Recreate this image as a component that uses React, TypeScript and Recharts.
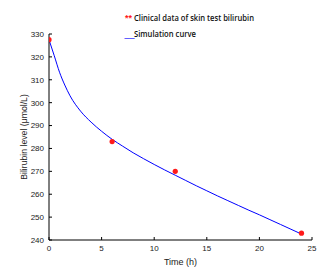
import React from 'react';
import { ComposedChart, Line, Scatter, XAxis, YAxis } from 'recharts';

const clinicalTime = [0, 6, 12, 24];
const clinicalValue = [327.5, 283, 270, 243];

const curveTime = [0, 0.5, 1, 1.5, 2, 3, 4, 5, 6, 7, 8, 9, 10, 11, 12, 13, 14, 15, 16, 17, 18, 19, 20, 21, 22, 23, 24];
const curveValue = [327.5, 320.5, 313.3, 307.7, 303, 296.3, 291.5, 287.5, 284, 281, 278.1, 275.5, 273, 270.6, 268.3, 266, 263.7, 261.5, 259.3, 257.2, 255.1, 253, 251, 248.9, 246.8, 244.7, 242.6];

const xTicks = [0, 5, 10, 15, 20, 25];
const yTicks = [240, 250, 260, 270, 280, 290, 300, 310, 320, 330];

const legendClinical = 'Clinical data of skin test bilirubin';
const legendCurve = 'Simulation curve';
const xLabel = 'Time (h)';
const yLabel = 'Bilirubin level (\u03bcmol/L)';

const clinicalData = clinicalTime.map((t, i) => ({ t, v: clinicalValue[i] }));
const curveData = curveTime.map((t, i) => ({ t, v: curveValue[i] }));

const tickStyle = { fontSize: 8, fill: '#222', fontFamily: 'Liberation Sans, Arial, sans-serif' };

const Star = (props: any) => {
  const { cx, cy } = props;
  if (cx == null || cy == null) return null;
  return (
    <g>
      <circle cx={cx} cy={cy} r={2.6} fill="#ff1a1a" />
    </g>
  );
};

const YLabel = (props: any) => {
  const vb = props.viewBox || {};
  const x = vb.x + 16;
  const y = vb.y + vb.height / 2;
  return (
    <text
      x={x}
      y={y}
      transform={`rotate(-90 ${x} ${y})`}
      textAnchor="middle"
      dominantBaseline="middle"
      fontSize={8.7}
      fill="#222"
      fontFamily="Liberation Sans, Arial, sans-serif"
    >
      {yLabel}
    </text>
  );
};

export default function App() {
  return (
    <div style={{ position: 'absolute', left: 0, top: 0, width: 336, height: 274, background: '#fff' }}>
      <ComposedChart width={336} height={274} margin={{ top: 34, right: 24, bottom: 4, left: 9 }}>
        <XAxis
          type="number"
          dataKey="t"
          domain={[0, 25]}
          ticks={xTicks}
          allowDataOverflow
          height={30}
          stroke="#000"
          tickSize={-3}
          tickMargin={8}
          tick={tickStyle}
          axisLine={{ stroke: '#000', strokeWidth: 1 }}
          tickLine={{ stroke: '#000' }}
          label={{ value: xLabel, position: 'insideBottom', offset: 5, fontSize: 9, fill: '#222', fontFamily: 'Liberation Sans, Arial, sans-serif' }}
        />
        <YAxis
          type="number"
          dataKey="v"
          domain={[240, 330]}
          ticks={yTicks}
          allowDataOverflow
          width={40}
          stroke="#000"
          tickSize={-3}
          tickMargin={8}
          tick={tickStyle}
          axisLine={{ stroke: '#000', strokeWidth: 1 }}
          tickLine={{ stroke: '#000' }}
          label={<YLabel />}
        />
        <Line
          data={curveData}
          dataKey="v"
          type="monotone"
          stroke="#0000ff"
          strokeWidth={1}
          dot={false}
          activeDot={false}
          isAnimationActive={false}
        />
        <Scatter data={clinicalData} dataKey="v" fill="#ff1a1a" shape={<Star />} isAnimationActive={false} />
      </ComposedChart>
      <svg width={336} height={274} style={{ position: 'absolute', left: 0, top: 0, pointerEvents: 'none' }}>
        <text x={125} y={20.5} fontSize={9} fill="#ff1a1a" fontFamily="Liberation Sans, Arial, sans-serif" fontWeight="bold">**</text>
        <text x={134} y={20.5} fontSize={9} fill="#111" fontFamily="Open Sans, sans-serif" fontWeight={600} textLength={120} lengthAdjust="spacingAndGlyphs">{legendClinical}</text>
        <text x={124.5} y={36.5} fontSize={9} fill="#0000ff" fontFamily="Liberation Sans, Arial, sans-serif">__</text>
        <text x={134} y={36.5} fontSize={9} fill="#111" fontFamily="Open Sans, sans-serif" fontWeight={600} textLength={62} lengthAdjust="spacingAndGlyphs">{legendCurve}</text>
      </svg>
    </div>
  );
}
